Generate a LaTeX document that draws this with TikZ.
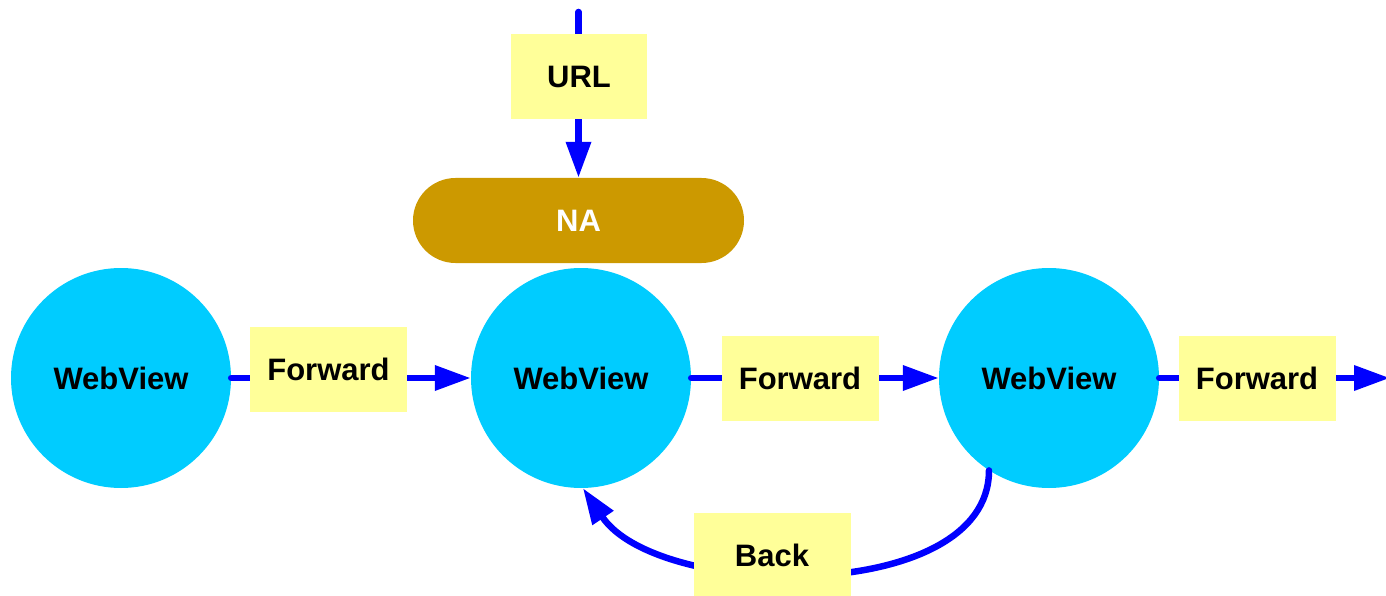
\documentclass[tikz,border=0pt]{standalone}
\usepackage{fontspec}
\setmainfont{Liberation Sans}
\usetikzlibrary{arrows.meta}
\definecolor{webcyan}{HTML}{00CCFF}
\definecolor{labelyellow}{HTML}{FFFF99}
\definecolor{naGold}{HTML}{CC9900}
\definecolor{edgeblue}{HTML}{0000FF}
\tikzset{
  webview/.style={circle, fill=webcyan, minimum size=220pt, inner sep=0pt,
    font=\fontsize{31}{37}\selectfont\bfseries},
  labelbox/.style={rectangle, fill=labelyellow, minimum width=157pt, minimum height=85pt,
    inner sep=0pt, font=\fontsize{31}{37}\selectfont\bfseries},
  nabox/.style={rectangle, rounded corners=42.5pt, fill=naGold, text=white,
    minimum width=331pt, minimum height=85pt, inner sep=0pt,
    font=\fontsize{31}{37}\selectfont\bfseries},
  flow/.style={draw=edgeblue, line width=6.5pt, line cap=round,
    -{Triangle[length=36pt,width=24pt]}}
}
\begin{document}
\begin{tikzpicture}[x=1pt,y=1pt]
\useasboundingbox (0,0) rectangle (1386,-596);
% main nodes
\node[webview] (c1) at (121,-378) {WebView};
\node[webview] (c2) at (581,-378) {WebView};
\node[webview] (c3) at (1049,-378) {WebView};
\node[nabox] (na) at (578.5,-220.5) {NA};
\coordinate (top) at (578.5,-12);
\coordinate (exit) at (1390,-378);
% connectors
\draw[flow] (top) -- (na);
\draw[flow] (c1) -- (c2);
\draw[flow] (c2) -- (c3);
\draw[flow] (c3) -- (exit);
\draw[flow] (c3.237) to[out=-90,in=-56,looseness=0.85] (c2.271);
% labels on connectors
\node[labelbox, minimum width=136pt] (url) at (579,-76.5) {URL};
\node[labelbox] (fw1) at (328.5,-369.5) {Forward};
\node[labelbox] (fw2) at (800,-378.5) {Forward};
\node[labelbox] (fw3) at (1257,-378.5) {Forward};
\node[labelbox] (back) at (772,-555.5) {Back};
\end{tikzpicture}
\end{document}
